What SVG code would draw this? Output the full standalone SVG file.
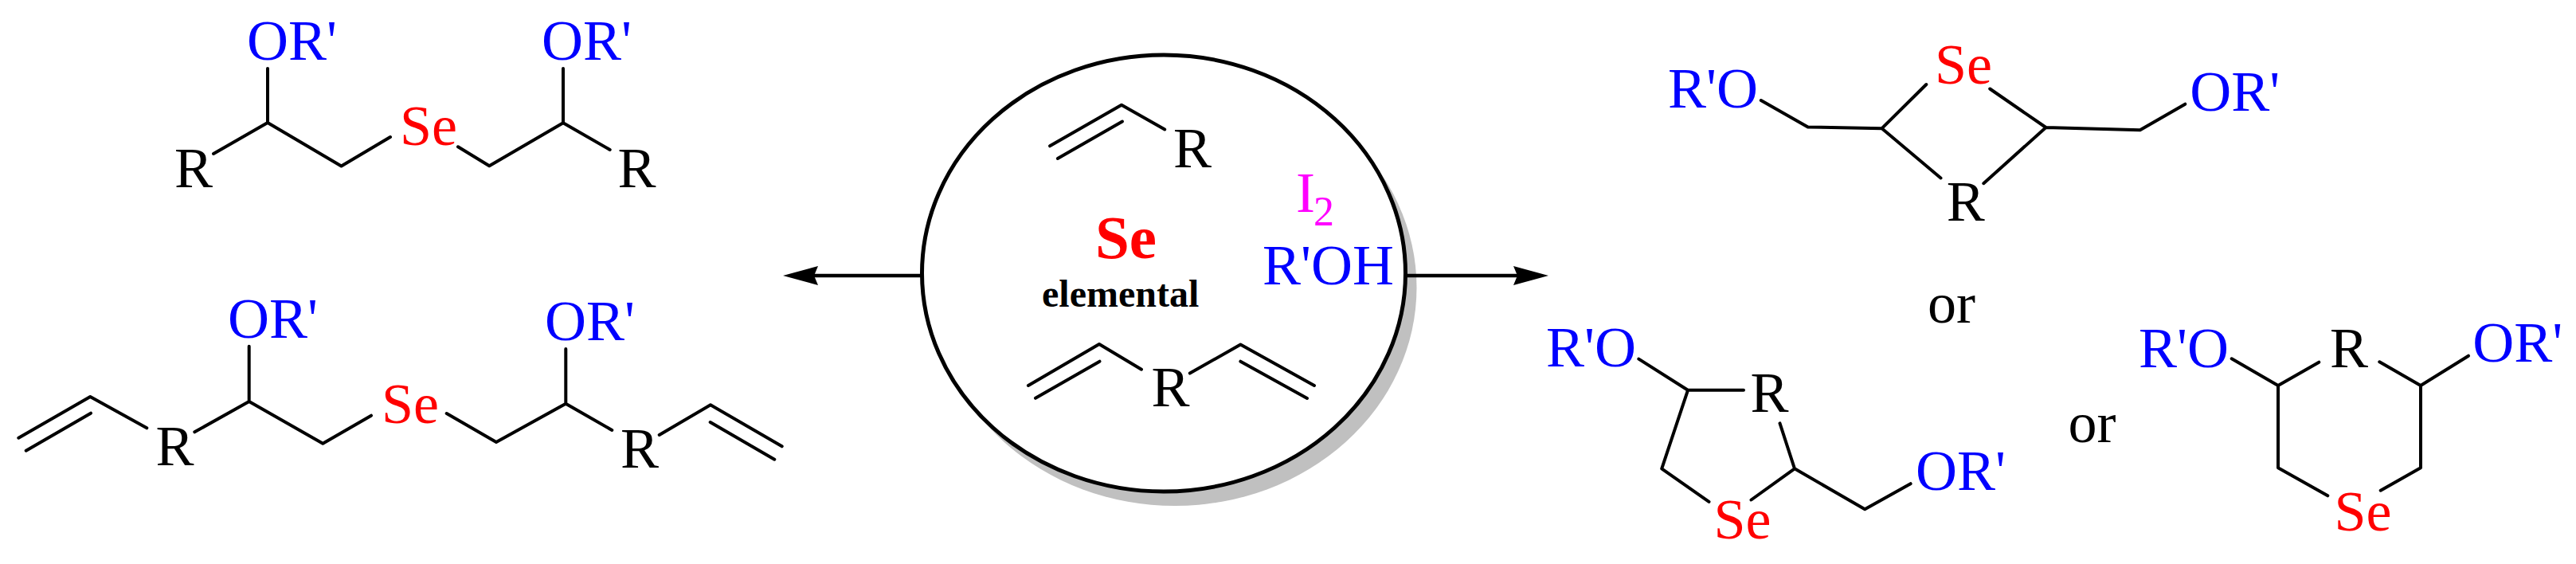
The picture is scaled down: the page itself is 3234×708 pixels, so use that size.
<svg xmlns="http://www.w3.org/2000/svg" width="3234" height="708" viewBox="0 0 3234 708">
<style>
text{font-family:"Liberation Serif","Times New Roman",serif;font-size:72px}
.k{fill:#000}.b{fill:#0000ff}.r{fill:#ff0000}.m{fill:#ff00ff}
.bond{fill:none;stroke:#000;stroke-width:4;stroke-linecap:round;stroke-linejoin:round}
.arrow{fill:none;stroke:#000;stroke-width:4.5}
</style>
<defs>
<marker id="head" markerUnits="userSpaceOnUse" markerWidth="44" markerHeight="24" viewBox="0 0 44 24" refX="5" refY="12" orient="auto">
<path d="M0 0L44 12L0 24L5 12Z" fill="#000"/>
</marker>
</defs>
<rect width="3234" height="708" fill="#fff"/>
<g id="product-top-left">
<path class="bond" d="M336 86V154M268 193L336 154L428.5 208.5L490 172M575 184.3L614.3 208.3L707 154.3L765.7 188M707 86V154.3"/>
<text class="b" x="310" y="75">OR'</text>
<text class="k" x="219" y="235">R</text>
<text class="r" x="502" y="181.7">Se</text>
<text class="b" x="680" y="75">OR'</text>
<text class="k" x="775.5" y="235">R</text>
</g>
<g id="product-bottom-left">
<path class="bond" d="M23.3 549.7L113.3 498L184.3 537.3M32.7 565.7L114 518.7M244.3 542.3L312.7 504L405.3 556.7L466 521.7M312.7 434.7V504M560.7 519L623 555L710.3 506.7L768.3 540M710.3 438V506.7M827.7 546L892 508.3L981.7 560.3M891.7 530L972.3 576.7"/>
<text class="b" x="286" y="424">OR'</text>
<text class="k" x="195.5" y="584">R</text>
<text class="r" x="479" y="530.7">Se</text>
<text class="b" x="684" y="427.3">OR'</text>
<text class="k" x="779" y="587.3">R</text>
</g>
<g id="reagents">
<ellipse cx="1475" cy="361" rx="303.5" ry="274" fill="#c0c0c0"/>
<ellipse cx="1461" cy="343" rx="303.5" ry="274" fill="#fff" stroke="#000" stroke-width="5"/>
<path class="bond" d="M1318 183.3L1408 131.8L1462.3 162.5M1327.8 199L1409 152.6"/>
<text class="k" x="1473" y="210">R</text>
<text class="m" x="1627" y="266">I</text>
<text class="m" x="1649" y="283" style="font-size:52px">2</text>
<text class="r" x="1375" y="323.7" style="font-size:77px;font-weight:bold">Se</text>
<text class="b" x="1585" y="356.7">R'OH</text>
<text class="k" x="1308" y="384.6" style="font-size:48px;font-weight:bold">elemental</text>
<path class="bond" d="M1290.9 484L1380 432L1433 463.7M1300 499.8L1380.5 453.7M1493.8 468.6L1557.4 432.5L1650 484M1557.4 453.7L1641 500"/>
<text class="k" x="1445.5" y="510">R</text>
</g>
<g id="connectors">
<path class="arrow" d="M1159 346H1022" marker-end="url(#head)"/>
<path class="arrow" d="M1764 346H1905" marker-end="url(#head)"/>
</g>
<g id="product-four-ring">
<path class="bond" d="M2210.8 126L2269.7 159.4L2362.6 161.2L2418.3 106M2362.6 161.2L2436.5 223.5M2498.2 111.5L2568.5 160L2490.3 230.2M2568.5 160L2686.7 163.3L2743.3 130.7"/>
<text class="b" x="2094" y="135.4">R'O</text>
<text class="r" x="2429" y="105.2">Se</text>
<text class="k" x="2443.8" y="276.8">R</text>
<text class="b" x="2749.3" y="139.3">OR'</text>
</g>
<text id="or-upper" class="k" x="2420" y="405">or</text>
<g id="product-five-ring">
<path class="bond" d="M2057.3 450.6L2119 489.8L2189 489.8M2119 489.8L2086.2 588.3L2145.5 629.8M2198.5 627.5L2253 588.3L2234.5 531.4M2253 588.3L2341.2 639.3L2398.6 607.2"/>
<text class="b" x="1941" y="459.6">R'O</text>
<text class="k" x="2197.5" y="517">R</text>
<text class="r" x="2151.5" y="675.8">Se</text>
<text class="b" x="2405" y="614.9">OR'</text>
</g>
<text id="or-lower" class="k" x="2596.5" y="554.7">or</text>
<g id="product-six-ring">
<path class="bond" d="M2801.7 450.3L2860 484L2911.3 454.7M2860 484V587.3L2922.3 622.3M2987.3 454.3L3039 484V587.3L2988.7 615.7M3039 484L3099 446.7"/>
<text class="b" x="2685" y="460.7">R'O</text>
<text class="k" x="2925" y="460.7">R</text>
<text class="r" x="2930.5" y="666.3">Se</text>
<text class="b" x="3104.3" y="454.3">OR'</text>
</g>
</svg>
